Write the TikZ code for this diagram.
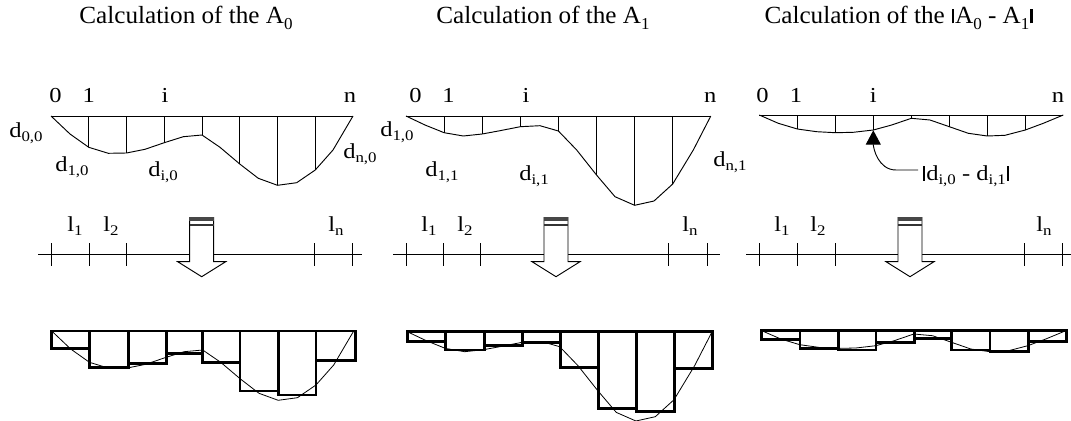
\documentclass[tikz,border=0pt]{standalone}
\usepackage{fontspec}
\setmainfont{Liberation Serif}
\newfontfamily\lblfont{Liberation Serif}[FakeStretch=1.15]
\newfontfamily\ttlfont{Liberation Serif}[FakeStretch=1.02]
\usetikzlibrary{arrows.meta}
\newcommand\sbs[1]{\raisebox{-3.2pt}{\fontsize{11}{11}\selectfont #1}}
\newcommand\tsb[1]{\raisebox{-4.5pt}{\fontsize{12.5}{12.5}\selectfont #1}}
\newcommand\absbar[1]{\kern0.6pt\rule{1.8pt}{#1}\kern0.6pt}
\newcommand\curveA[1]{\draw[#1] (51,116) -- (70,134) -- (88.75,147.3) -- (108.3,153.3) -- (126.5,153) -- (145,149.3) -- (164.25,142.7) -- (183.3,136.7) -- (202,135) -- (220,147.3) -- (239.75,164) -- (258.3,178.3) -- (277.5,185.3) -- (296.7,182.7) -- (315.25,170) -- (333,150) -- (353,116);}
\newcommand\curveB[1]{\draw[#1] (406,116) -- (425,125) -- (444.1,132.7) -- (463.3,136) -- (482.2,134) -- (500,130.7) -- (520.3,126.7) -- (540,125.7) -- (558.4,131) -- (576.7,150) -- (596.5,175) -- (615,196.7) -- (634.6,205.3) -- (654,201) -- (672.7,184) -- (693.3,150) -- (710.8,116);}
\newcommand\curveC[1]{\draw[#1] (759.3,115) -- (778.3,123.3) -- (797.3,129) -- (816.7,131.7) -- (835.3,132.7) -- (853.3,132.3) -- (873.3,130) -- (891.7,125) -- (911.3,118.3) -- (930,120) -- (949.3,126.7) -- (968.3,133.3) -- (987.3,136) -- (1005,135.3) -- (1025.3,130) -- (1043.3,123.3) -- (1063.3,115);}
\newcommand\dnarr[1]{%
  \draw[thinln, fill=white] (#1-12,217) -- (#1-12,261.7) -- (#1-24,261.7) -- (#1,276.7) -- (#1+24,261.7) -- (#1+12,261.7) -- (#1+12,217);
  \fill[black!72] (#1-12.3,216.5) rectangle (#1+12.3,221.3);
  \draw[line width=1.4pt, black!80] (#1-12,224.8) -- (#1+12,224.8);
}
\begin{document}
\begin{tikzpicture}[x=0.75pt,y=-0.75pt,
  ttl/.style={font=\ttlfont\fontsize{18.5}{20}\selectfont, inner sep=0pt, anchor=base},
  lbl/.style={font=\lblfont\fontsize{16}{17}\selectfont, inner sep=0pt, anchor=base west},
  idx/.style={font=\lblfont\fontsize{16}{17}\selectfont, inner sep=0pt, anchor=base},
  thinln/.style={line width=0.7pt, line join=miter},
  barln/.style={line width=2pt, line join=miter},
  crv/.style={line width=0.6pt}]
\useasboundingbox (0,0) rectangle (1071,421);
% titles
\node[ttl] (t1) at (186,23.3) {Calculation of the A\tsb{0}};
\node[ttl] (t2) at (543,23.3) {Calculation of the A\tsb{1}};
\node[ttl] (t3) at (899,23.3) {Calculation of the \absbar{10.5pt}A\tsb{0} - A\tsb{1}\absbar{10.5pt}};
% ---------- panel 1 top
\draw[thinln] (51,116) -- (353,116);
\curveA{thinln}
\foreach \x/\y in {88.75/147.3,126.5/153,164.25/142.7,202/135,239.75/164,277.5/185.3,315.25/170}
  \draw[thinln] (\x,116) -- (\x,\y);
\node[idx] (a0) at (55.5,102.7) {0};
\node[idx] (a1) at (88.8,102.7) {1};
\node[idx] (ai) at (165,102.7) {i};
\node[idx] (an) at (350,102.7) {n};
\node[lbl] (d00) at (9,137) {d\sbs{0,0}};
\node[lbl] (d10) at (55,171) {d\sbs{1,0}};
\node[lbl] (di0) at (148,176) {d\sbs{i,0}};
\node[lbl] (dn0) at (343,158) {d\sbs{n,0}};
% ---------- panel 2 top
\draw[thinln] (406,116) -- (710.8,116);
\curveB{thinln}
\foreach \x/\y in {444.1/132.7,482.2/134,520.3/126.7,558.4/131,596.5/175,634.6/205.3,672.7/184}
  \draw[thinln] (\x,116) -- (\x,\y);
\node[idx] (b0) at (415.5,102.7) {0};
\node[idx] (b1) at (448.5,102.7) {1};
\node[idx] (bi) at (526,102.7) {i};
\node[idx] (bn) at (710.3,102.7) {n};
\node[lbl] (e10) at (380,136.7) {d\sbs{1,0}};
\node[lbl] (e11) at (425,176.7) {d\sbs{1,1}};
\node[lbl] (ei1) at (519,180) {d\sbs{i,1}};
\node[lbl] (en1) at (713,166.7) {d\sbs{n,1}};
% ---------- panel 3 top
\draw[thinln] (759.3,115) -- (1063.3,115);
\curveC{thinln}
\foreach \x/\y in {797.3/129,835.3/132.7,873.3/130,911.3/118.3,949.3/126.7,987.3/136,1025.3/130}
  \draw[thinln] (\x,115) -- (\x,\y);
\node[idx] (c0) at (762.5,102.7) {0};
\node[idx] (c1) at (796,102.7) {1};
\node[idx] (ci) at (873.3,102.7) {i};
\node[idx] (cn) at (1058,102.7) {n};
\node[lbl] (dif) at (922,180.7) {\absbar{11pt}d\sbs{i,0} - d\sbs{i,1}\absbar{11pt}};
\coordinate (pi) at (873.3,130.3);
\coordinate (as) at (918,170);
\draw[thinln,-{Triangle[length=10.7pt,width=11.2pt]}] (as) -- (896,170) to[out=180,in=-90] (pi);
% ---------- rulers
\draw[thinln] (38.3,254.3) -- (362,254.3);
\foreach \x in {51.7,89,126,314.3,352.7} \draw[thinln] (\x,243.3) -- (\x,266);
\draw[thinln] (393.3,254.3) -- (720,254.3);
\foreach \x in {406,443.3,480.7,668.3,707.3} \draw[thinln] (\x,243.3) -- (\x,266);
\draw[thinln] (746,254.3) -- (1071,254.3);
\foreach \x in {759,797,835,1024,1062} \draw[thinln] (\x,243.3) -- (\x,266);
\node[lbl] (l1a) at (67,231.7) {l\sbs{1}};
\node[lbl] (l2a) at (103,231.7) {l\sbs{2}};
\node[lbl] (lna) at (328,231.7) {l\sbs{n}};
\node[lbl] (l1b) at (421,231.7) {l\sbs{1}};
\node[lbl] (l2b) at (457,231.7) {l\sbs{2}};
\node[lbl] (lnb) at (682,231.7) {l\sbs{n}};
\node[lbl] (l1c) at (774,231.7) {l\sbs{1}};
\node[lbl] (l2c) at (810,231.7) {l\sbs{2}};
\node[lbl] (lnc) at (1036,231.7) {l\sbs{n}};
\dnarr{201.7}
\dnarr{556}
\dnarr{910}
% ---------- bottom bars
\foreach \a/\b/\h in {51.7/89.3/348.3,89.3/128.3/367.3,128.3/166.7/363.3,166.7/202.7/353.3,202.7/240/362.7,240/278.3/391,278.3/316/395,316/355.7/360.7}
  \draw[barln] (\a,331) rectangle (\b,\h);
\begin{scope}[shift={(0.7,215)}]\curveA{crv}\end{scope}
\foreach \a/\b/\h in {407.3/445.7/341.7,445.7/484.3/350,484.3/522.7/345.7,522.7/560.7/342.3,560.7/598.3/367.3,598.3/636.7/408.3,636.7/674.3/411.7,674.3/712.7/368.3}
  \draw[barln] (\a,331.7) rectangle (\b,\h);
\begin{scope}[shift={(1.3,215.7)}]\curveB{crv}\end{scope}
\foreach \a/\b/\h in {761.7/800/339.3,800/838.3/348.3,838.3/876/350,876/914.3/342.3,914.3/951.7/338.3,951.7/990/350,990/1028.3/351.7,1028.3/1066.5/341.7}
  \draw[barln] (\a,330.7) rectangle (\b,\h);
\begin{scope}[shift={(2.5,215.7)}]\curveC{crv}\end{scope}
\end{tikzpicture}
\end{document}
